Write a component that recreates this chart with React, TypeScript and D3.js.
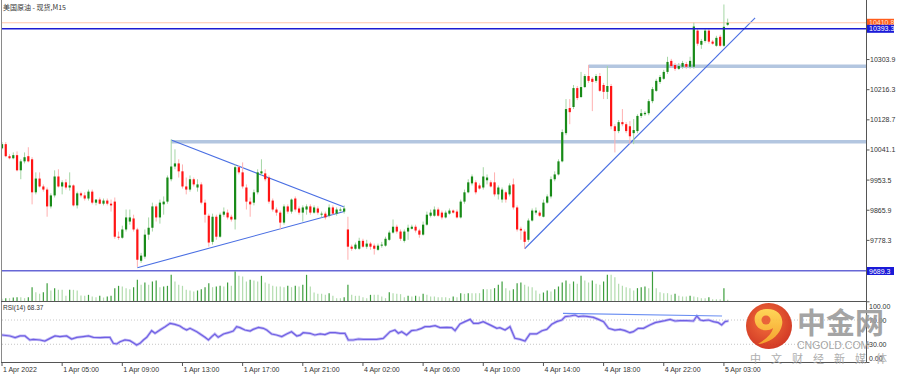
import React from "react";
import * as d3 from "d3";

const title = "美国原油 - 现货,M15";

const opens = [10046,10058,10023,10017,10026,9982,10008,10023,10014,9918,
9958,9935,9926,9877,9909,9964,9935,9947,9932,9938,
9880,9915,9909,9900,9920,9888,9897,9885,9894,9885,
9891,9789,9786,9810,9833,9842,9810,9719,9731,9795,
9815,9877,9845,9883,9891,9956,9993,10002,9979,9935,
9926,9956,9932,9941,9888,9850,9774,9847,9789,9853,
9859,9847,9839,9991,9976,9932,9891,9888,9918,9973,
9973,9961,9894,9868,9859,9830,9877,9862,9900,9871,
9859,9868,9877,9859,9871,9853,9856,9850,9874,9856,
9865,9862,9810,9760,9754,9754,9777,9760,9769,9763,
9751,9763,9763,9780,9801,9818,9804,9777,9804,9812,
9818,9807,9795,9824,9850,9850,9868,9859,9845,9856,
9865,9862,9845,9891,9918,9944,9947,9938,9932,9953,
9947,9947,9912,9897,9918,9912,9941,9874,9812,9804,
9780,9836,9859,9859,9847,9888,9906,9956,9970,10008,
10090,10163,10166,10221,10195,10224,10256,10248,10242,10256,
10230,10210,10227,10110,10096,10122,10116,10110,10090,10096,
10140,10145,10148,10183,10213,10239,10248,10268,10300,10288,
10277,10283,10291,10283,10283,10388,10347,10358,10388,10356,
10344,10370,10344,10405];

const highs = [10064,10064,10029,10034,10037,10014,10034,10049,10020,9976,
9976,9941,9932,9915,9982,9985,9953,9956,9976,9941,
9920,9920,9918,9926,9926,9897,9903,9900,9900,9897,
9903,9804,9821,9868,9868,9853,9815,9742,9810,9845,
9888,9883,9897,9906,9967,10072,10043,10014,9999,9961,
9967,9961,9956,9947,9897,9856,9856,9853,9859,9874,
9868,9853,9999,9996,10005,9941,9903,9926,9985,10014,
9985,9967,9900,9874,9865,9883,9883,9900,9906,9877,
9880,9883,9883,9880,9877,9862,9862,9883,9880,9874,
9874,9880,9847,9766,9772,9786,9783,9780,9774,9769,
9769,9774,9789,9807,9839,9824,9810,9810,9824,9824,
9824,9812,9833,9862,9868,9877,9874,9865,9865,9871,
9868,9868,9897,9926,9956,9970,9953,9944,9991,9970,
9953,9976,9938,9932,9923,9944,9958,9880,9818,9810,
9842,9871,9874,9865,9897,9912,9964,9979,10014,10101,
10189,10189,10230,10227,10268,10262,10288,10253,10262,10265,
10236,10285,10233,10116,10128,10160,10122,10125,10131,10145,
10160,10154,10189,10224,10248,10259,10274,10312,10306,10294,
10294,10300,10297,10312,10411,10394,10364,10394,10394,10361,
10373,10376,10464,10423];

const lows = [10043,10020,10014,10014,9979,9956,10002,10005,9883,9912,
9932,9920,9847,9871,9903,9932,9912,9926,9923,9877,
9871,9903,9894,9894,9883,9880,9883,9880,9880,9862,
9783,9780,9783,9804,9824,9804,9701,9713,9725,9780,
9804,9833,9827,9853,9885,9950,9985,9961,9929,9912,
9920,9935,9920,9883,9830,9760,9766,9780,9786,9847,
9839,9833,9810,9970,9929,9868,9847,9880,9912,9967,
9950,9885,9862,9850,9810,9824,9856,9856,9862,9853,
9833,9853,9853,9856,9853,9845,9839,9845,9853,9850,
9862,9856,9722,9748,9751,9751,9757,9754,9751,9737,
9748,9757,9760,9777,9798,9798,9777,9772,9780,9810,
9801,9786,9792,9821,9845,9847,9847,9839,9842,9853,
9856,9842,9842,9885,9915,9938,9912,9926,9926,9941,
9932,9906,9897,9888,9888,9906,9868,9804,9780,9754,
9774,9833,9853,9847,9845,9885,9900,9950,9967,10005,
10084,10116,10160,10186,10192,10221,10236,10154,10236,10210,
10189,10189,10101,10034,10090,10110,10090,10058,10058,10090,
10134,10140,10142,10177,10210,10233,10245,10262,10280,10271,
10274,10277,10277,10277,10277,10344,10335,10353,10350,10347,
10341,10341,10341,10402];

const closes = [10058,10023,10017,10026,9982,10008,10020,10008,9918,9958,
9935,9926,9877,9909,9964,9935,9947,9932,9938,9880,
9915,9909,9900,9920,9888,9897,9885,9894,9885,9880,
9789,9786,9810,9845,9845,9810,9722,9734,9795,9815,
9877,9845,9888,9891,9961,9993,10002,9979,9935,9926,
9956,9941,9941,9888,9853,9772,9847,9789,9853,9862,
9845,9839,9991,9976,9935,9891,9883,9918,9976,9979,
9956,9891,9868,9859,9830,9877,9862,9897,9868,9859,
9874,9877,9859,9874,9859,9856,9845,9874,9856,9868,
9868,9871,9760,9754,9766,9777,9760,9769,9760,9754,
9763,9766,9783,9801,9818,9804,9783,9804,9815,9818,
9807,9795,9824,9853,9859,9868,9850,9845,9859,9865,
9859,9845,9891,9918,9947,9964,9918,9929,9964,9961,
9935,9912,9932,9926,9897,9938,9874,9810,9807,9774,
9836,9865,9865,9850,9888,9906,9956,9970,10008,10093,
10160,10151,10221,10192,10224,10256,10242,10239,10256,10213,
10210,10227,10110,10096,10122,10116,10096,10081,10099,10140,
10148,10149,10183,10218,10242,10253,10268,10297,10285,10277,
10285,10294,10283,10300,10400,10350,10358,10388,10356,10350,
10367,10344,10399,10410.8];

const volumes = [80,100,100,120,130,130,100,130,430,280,
230,280,550,330,400,350,350,170,350,350,
330,180,170,200,150,130,170,120,150,170,
400,470,450,400,370,430,650,500,570,500,
600,630,430,450,470,800,600,500,470,350,
330,300,330,370,430,550,430,450,470,450,
570,470,900,770,750,600,650,630,600,770,
570,530,470,450,450,430,470,430,470,450,
500,800,450,270,230,230,200,250,170,100,
100,130,500,200,170,170,130,100,200,200,
200,150,100,280,250,230,220,130,170,150,
170,150,230,200,150,150,130,130,130,100,
150,130,250,230,250,250,250,250,370,370,
370,400,500,600,400,330,370,550,570,500,
450,430,330,230,270,330,300,370,450,570,
630,530,600,530,770,630,570,630,530,500,
600,800,800,730,530,470,430,400,330,400,
430,450,400,900,400,280,250,250,200,230,
170,150,150,170,150,130,100,100,130,70,
70,70,400,50];

const rsiBars = [0,2.1,3.5,4.8,6.1,7.4,8.3,10.1,11.4,12.8,14.1,15.4,17.2,18.5,19.9,21.6,23,24.3,26.1,27.4,28.7,29.6,30.5,31.4,32.7,34,34.9,35.8,36.7,37.6,38.5,39.8,40.7,42,43.4,44.7,46,47.3,48.2,49.1,50,50.9,51.8,52.7,54,54.9,55.8,56.6,57.5,58.9,60.2,61.5,62.4,63.3,64.6,66,66.8,68.2,69.5,70.4,71.7,73,74.4,75.7,77,78.4,79.3,
80.1,81.9,83.2,84.6,85.9,87.2,88.6,89.9,91.2,92.1,93.4,94.8,96.1,97.9,99.6,101.4,103.2,104.5,105.4,106.3,107.6,108.9,110.3,111.6,112.5,113.8,115.2,116.5,118.3,119.6,120.5,121.8,123.1,124.5,125.4,126.7,128,128.9,130.2,131.6,132.4,133.8,135.1,136.4,137.8,139.1,140.4,142.2,143.6,144.9,146.2,147.5,148.9,149.8,151.1,152.4,153.3,154.6,156,157.3,158.6,
160,161.3,163,164.4,165.7,167,167.9,169.2,170.6,172.3,173.7,175,176.3,177.7,179,180.3,182.1,183.9,184.8,185.7,186.5,187.9,189.2,190.5,191.4,192.3,193.2];
const rsiValues = [45.3,43.7,40.9,43.7,43.7,37.1,38.2,37.1,35.4,39.8,43.7,42.6,43.7,38.7,41.5,42.6,43.7,41.5,40.9,41.5,41.5,31.6,30.5,34.3,37.1,36,32.7,28.8,31.6,37.1,41.5,52.4,48.1,53.5,59,64.5,62.9,60.1,56.3,53.5,56.3,53.5,50.8,47,41.5,37.1,42.6,47,41.5,47,49.1,51.9,59,57.4,53.5,51.9,54.6,57.9,56.3,53.5,47,45.3,42.6,47,50.8,43.7,45,
49.1,48.1,45.3,47,45.9,49.1,49.1,48.1,48.1,37.1,37.1,38.7,38.2,38.2,38.2,39.8,50.8,53.5,48.1,50.8,45.3,52.4,53.5,56.3,59,59,60.7,57.4,57.9,57.4,52.4,63.4,67.3,71.1,64.5,64.5,67.3,64.5,60.7,56.3,57.4,53.5,59,39.8,38.2,35.4,47,47,52.4,54.6,62.9,67.3,70,75.5,76.6,78.2,75.5,76.6,75.5,74.4,71.1,
67.3,56.3,53.5,54.6,52.4,49.1,50.8,56.3,56.3,61.8,65.6,67.3,68.9,71.1,68.4,68.9,68.9,68.4,76.6,70,68.9,70,67.3,65.6,61.8,67.3,68.4];

const priceTicks = [10303.9, 10216.3, 10128.7, 10041.1, 9953.5, 9865.9, 9778.3];
const rsiTicks = [100, 70, 30, 0];
const rsiLevels = [70, 30];
const bidPrice = 10410.8;
const hLevels = [10393.3, 9689.3];
const zoneLevels = [{ bar: 45, price: 10065.2 }, { bar: 156, price: 10284.4 }];
const trendLines = [
  { b1: 45, p1: 10070, b2: 91, p2: 9875.3 },
  { b1: 36, p1: 9698.9, b2: 91, p2: 9862.3 },
  { b1: 139, p1: 9754, b2: 200.3, p2: 10424.8 },
];
const rsiTrend = { b1: 149.2, r1: 81, b2: 191.5, r2: 76.6 };
const timeLabelBars = [0, 16, 32, 48, 64, 80, 96, 112, 128, 144, 160, 176, 192];
const timeLabels = ["1 Apr 2022", "1 Apr 05:00", "1 Apr 09:00", "1 Apr 13:00", "1 Apr 17:00", "1 Apr 21:00", "4 Apr 02:00", "4 Apr 06:00", "4 Apr 10:00", "4 Apr 14:00", "4 Apr 18:00", "4 Apr 22:00", "5 Apr 03:00"];
const rsiLabel = "RSI(14) 68.37";
const brandName = "中金网";
const brandSite = "CNGOLD.COM";
const brandSlogan = ["中", "文", "财", "经", "新", "媒", "体"];

const FONT = "'Liberation Sans', Arial, sans-serif";
const CJK = "'Noto Sans CJK SC', sans-serif";

export default function App() {
  const W = 903, H = 376;
  const axisX = 866.5;
  const x = d3.scaleLinear().domain([0, 193]).range([2, 2 + 193 * 3.76]);
  const y = d3.scaleLinear().domain([9689.3, 10393.3]).range([271, 28.8]);
  const yV = d3.scaleLinear().domain([0, 900]).range([301.5, 271.5]);
  const yR = d3.scaleLinear().domain([0, 100]).range([362.5, 301.8]);
  const rsiPath = d3.line<number>().x((_, i) => x(rsiBars[i])).y((d) => yR(d))(rsiValues) || "";
  const fmt = d3.format(".1f");
  const sloganX = d3.scalePoint<string>().domain(brandSlogan.map((_, i) => String(i))).range([750, 876]);

  return (
    <svg width={W} height={H} style={{ position: "absolute", left: 0, top: 0, background: "#fff" }} fontFamily={FONT}>
      <defs>
        <clipPath id="main"><rect x={1.5} y={0} width={axisX - 1.5} height={271.5} /></clipPath>
        <radialGradient id="logoG" cx="45%" cy="40%" r="60%">
          <stop offset="0%" stopColor="#f4672c" />
          <stop offset="100%" stopColor="#cf2a14" />
        </radialGradient>
        <linearGradient id="swirl" x1="0" y1="0" x2="0" y2="1">
          <stop offset="0%" stopColor="#ffd34a" />
          <stop offset="100%" stopColor="#f59a1c" />
        </linearGradient>
      </defs>
      <rect width={W} height={H} fill="#fff" />
      <text x={3} y={9.5} fontSize={7} fill="#333" fontFamily={CJK}>{title}</text>

      <g clipPath="url(#main)">
        {zoneLevels.map((z, i) => (
          <line key={"z" + i} x1={x(z.bar)} x2={axisX} y1={y(z.price)} y2={y(z.price)} stroke="#b3c6e0" strokeWidth={3.5} />
        ))}
        {trendLines.map((t, i) => (
          <line key={"t" + i} x1={x(t.b1)} y1={y(t.p1)} x2={x(t.b2)} y2={y(t.p2)} stroke="#4a6fe3" strokeWidth={1.1} />
        ))}
        <line x1={0} x2={axisX} y1={y(bidPrice)} y2={y(bidPrice)} stroke="#ffc6aa" strokeWidth={1} />
        {closes.map((c, i) => {
          const o = opens[i];
          const up = c >= o;
          const cx = x(i);
          const top = y(Math.max(o, c));
          const bot = y(Math.min(o, c));
          return (
            <g key={i}>
              <line x1={cx} x2={cx} y1={y(highs[i])} y2={y(lows[i])} stroke={up ? "#a5d6a5" : "#ffb0b0"} strokeWidth={1} />
              <rect x={cx - 1.1} y={top} width={2.2} height={Math.max(0.8, bot - top)} fill={up ? "#178a17" : "#ff1414"} />
            </g>
          );
        })}
        {hLevels.map((p, i) => (
          <line key={"h" + i} x1={0} x2={axisX} y1={y(p)} y2={y(p)} stroke={i === 0 ? "#1c1cd2" : "#3434c8"} strokeWidth={1.6} />
        ))}
      </g>

      {volumes.map((v, i) => (
        <line key={"v" + i} x1={x(i)} x2={x(i)} y1={yV(0)} y2={yV(v)} stroke={i > 0 && v > volumes[i - 1] ? "#3d9e3d" : "#b2dcae"} strokeWidth={1.2} />
      ))}

      {rsiLevels.map((r) => (
        <line key={"rl" + r} x1={2} x2={axisX} y1={yR(r)} y2={yR(r)} stroke="#b8b8b8" strokeWidth={0.8} strokeDasharray="1,2" />
      ))}
      <path d={rsiPath} fill="none" stroke="#c4bdf5" strokeWidth={2.8} />
      <path d={rsiPath} fill="none" stroke="#6f5fe4" strokeWidth={1.2} />
      <line x1={x(rsiTrend.b1)} y1={yR(rsiTrend.r1)} x2={x(rsiTrend.b2)} y2={yR(rsiTrend.r2)} stroke="#6a8ef2" strokeWidth={1.2} />
      <text x={3} y={310} fontSize={6.5} fill="#333">{rsiLabel}</text>

      <line x1={1.5} x2={1.5} y1={0} y2={362} stroke="#8a8a8a" strokeWidth={1} />
      <line x1={axisX} x2={axisX} y1={0} y2={362.5} stroke="#555" strokeWidth={1} />
      <line x1={1} x2={axisX} y1={301.5} y2={301.5} stroke="#555" strokeWidth={1} />
      <line x1={1} x2={axisX} y1={362.5} y2={362.5} stroke="#555" strokeWidth={1} />

      {priceTicks.map((p) => (
        <g key={"pt" + p}>
          <line x1={axisX} x2={axisX + 3} y1={y(p)} y2={y(p)} stroke="#555" />
          <text x={870} y={y(p) + 2.5} fontSize={7} fill="#333">{fmt(p)}</text>
        </g>
      ))}
      <rect x={867} y={y(bidPrice) - 4} width={27} height={8} fill="#ff5d1c" />
      <text x={869} y={y(bidPrice) + 2.5} fontSize={7} fill="#ffe4d4">{fmt(bidPrice)}</text>
      {hLevels.map((p, i) => (
        <g key={"tag" + i}>
          <rect x={867} y={y(p) - 4} width={27} height={8} fill="#1a1ad8" />
          <text x={869} y={y(p) + 2.5} fontSize={7} fill="#fff">{fmt(p)}</text>
        </g>
      ))}

      {rsiTicks.map((r) => {
        const yy = r === 100 ? yR(r) + 4.5 : r === 0 ? yR(r) - 4 : yR(r);
        return (
          <g key={"rt" + r}>
            <line x1={axisX} x2={axisX + 3} y1={yR(r)} y2={yR(r)} stroke="#555" />
            <text x={869} y={yy + 2.5} fontSize={7} fill="#333">{d3.format(".2f")(r)}</text>
          </g>
        );
      })}

      {timeLabelBars.map((b, i) => (
        <g key={"tl" + i}>
          <line x1={x(b)} x2={x(b)} y1={362.5} y2={366} stroke="#555" />
          <text x={x(b) + 1} y={372} fontSize={7} fill="#333">{timeLabels[i]}</text>
        </g>
      ))}

      <g opacity={0.92}>
        <circle cx={769} cy={326} r={23} fill="url(#logoG)" />
        <path d="M766,309 C777,308 784,316 782,325 C780,335 770,343 758,344 C766,339 772,334 773,328 C768,332 757,331 755,322 C753,314 759,309 766,309 Z" fill="url(#swirl)" />
        <circle cx={766} cy={320} r={4.5} fill="#e8562a" />
        <text x={797} y={334} fontSize={29} fontWeight="bold" fill="#9d9d9d" fontFamily={CJK}>{brandName}</text>
        <text x={797} y={348.5} fontSize={10.5} fill="#a0a0a0" fontFamily={FONT}>{brandSite}</text>
        {brandSlogan.map((ch, i) => (
          <text key={"s" + i} x={sloganX(String(i))} y={363} fontSize={11} fill="#a8a8a8" fontFamily={CJK}>{ch}</text>
        ))}
      </g>
    </svg>
  );
}
